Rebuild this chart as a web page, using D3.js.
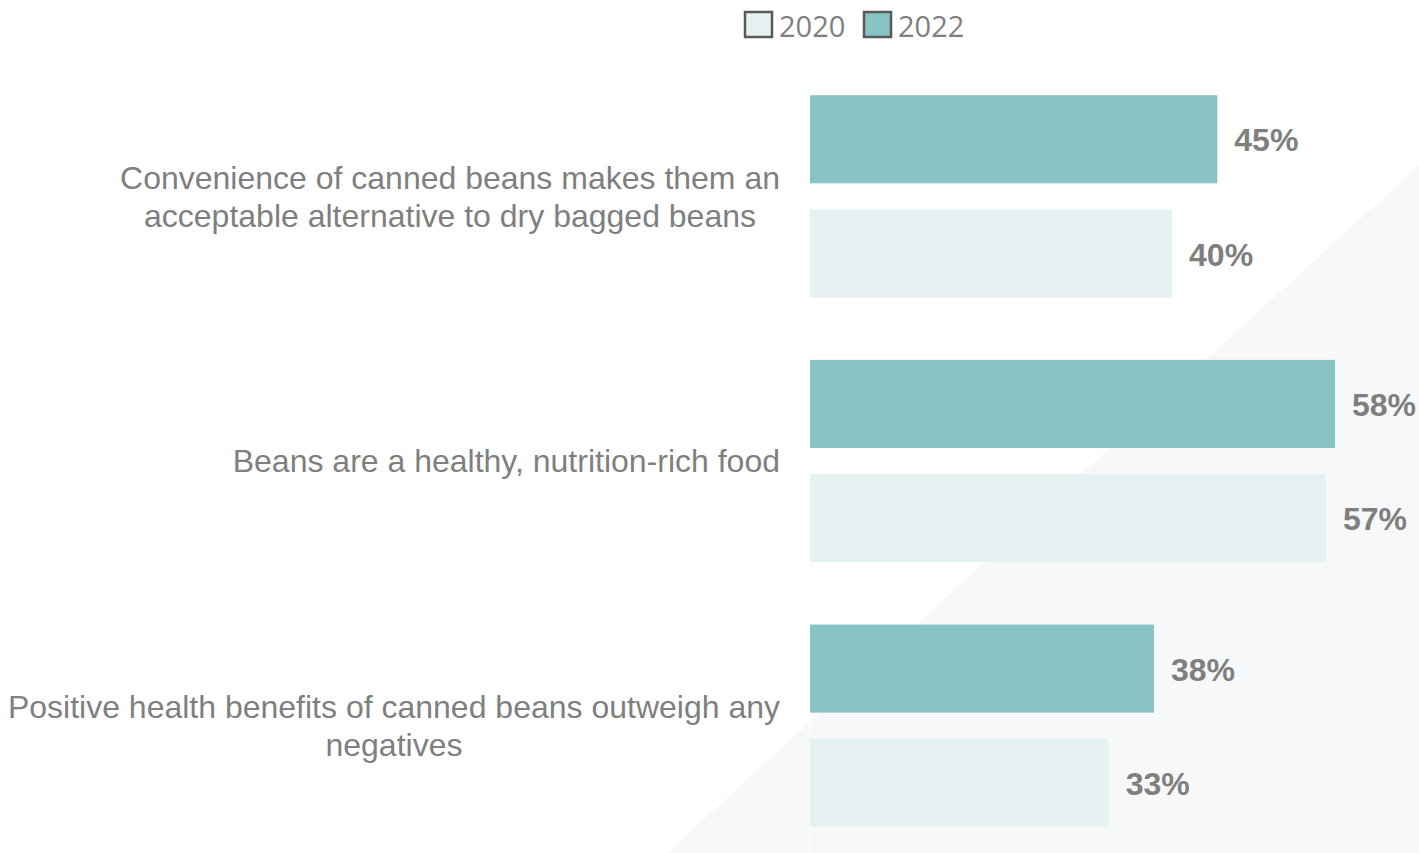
<!DOCTYPE html>
<html>
<head>
<meta charset="utf-8">
<script src="https://cdn.jsdelivr.net/npm/d3@7"></script>
<style>
  html, body { margin: 0; padding: 0; background: #ffffff; }
  svg { display: block; }
</style>
</head>
<body>
<svg id="chart" width="1419" height="853"></svg>
<script>
// Survey statements (each may wrap onto several lines)
const categories = [
  "Convenience of canned beans makes them an|acceptable alternative to dry bagged beans",
  "Beans are a healthy, nutrition-rich food",
  "Positive health benefits of canned beans outweigh any|negatives"
];
const seriesNames = ["2022", "2020"];
const values2022 = [45, 58, 38];
const values2020 = [40, 57, 33];
const legendOrder = ["2020", "2022"];

const colors = { "2020": "#e6f2f2", "2022": "#89c4c4" };
const textGray = "#7f7f7f";

const W = 1419, H = 853;
const svg = d3.select("#chart");

// Light diagonal panel in the lower right corner
svg.append("polygon")
  .attr("points", [[667, H], [W, 165], [W, H]].map(p => p.join(",")).join(" "))
  .attr("fill", "#f7f8fa");

const x = d3.scaleLinear().domain([0, 58]).range([810, 1335]);

const y = d3.scaleBand()
  .domain(categories)
  .range([64, 858])
  .paddingInner(0.236)
  .paddingOuter(0.118);

const ySeries = d3.scaleBand()
  .domain(seriesNames)
  .range([0, y.bandwidth()])
  .paddingInner(0.228);

const rows = categories.map((c, i) => ({
  cat: c,
  vals: [
    { key: "2022", v: values2022[i] },
    { key: "2020", v: values2020[i] }
  ]
}));

// Value axis baseline
svg.append("line")
  .attr("x1", x(0)).attr("x2", x(0))
  .attr("y1", 80).attr("y2", H)
  .attr("stroke", "#ffffff").attr("stroke-width", 1);

const groups = svg.selectAll("g.row")
  .data(rows)
  .join("g")
  .attr("class", "row")
  .attr("transform", d => `translate(0,${y(d.cat)})`);

groups.selectAll("rect")
  .data(d => d.vals)
  .join("rect")
  .attr("x", x(0))
  .attr("y", d => ySeries(d.key))
  .attr("width", d => x(d.v) - x(0))
  .attr("height", ySeries.bandwidth())
  .attr("fill", d => colors[d.key]);

groups.selectAll("text.val")
  .data(d => d.vals)
  .join("text")
  .attr("class", "val")
  .attr("x", d => x(d.v) + 17)
  .attr("y", d => ySeries(d.key) + ySeries.bandwidth() / 2 + 1)
  .attr("dy", "0.35em")
  .attr("font-family", "Arial, 'Liberation Sans', sans-serif")
  .attr("font-weight", "bold")
  .attr("font-size", 32)
  .attr("fill", textGray)
  .text(d => d.v + "%");

// Category labels: lines centred on each other, block right-aligned to the bars
const labelRight = 780;
const lineH = 38;
groups.each(function (d) {
  const g = d3.select(this);
  const lines = d.cat.split("|");
  const t = g.append("text")
    .attr("font-family", "Arial, 'Liberation Sans', sans-serif")
    .attr("font-size", 32)
    .attr("fill", textGray)
    .attr("text-anchor", "middle");
  const cy = y.bandwidth() / 2;
  const tspans = lines.map((ln, i) =>
    t.append("tspan")
      .attr("y", cy + (i - (lines.length - 1) / 2) * lineH)
      .attr("dy", "0.35em")
      .text(ln)
  );
  const maxW = d3.max(tspans, s => s.node().getComputedTextLength());
  tspans.forEach(s => s.attr("x", labelRight - maxW / 2));
});

// Legend
const legend = svg.append("g").attr("class", "legend");
const legendX = [744, 863];
legendOrder.forEach((k, i) => {
  const lg = legend.append("g").attr("transform", `translate(${legendX[i]},11)`);
  lg.append("rect")
    .attr("x", 1).attr("y", 1)
    .attr("width", 27).attr("height", 25)
    .attr("fill", colors[k])
    .attr("stroke", "#595959")
    .attr("stroke-width", 2.5);
  lg.append("text")
    .attr("x", 35)
    .attr("y", 16)
    .attr("dy", "0.35em")
    .attr("font-family", "'Open Sans', sans-serif")
    .attr("font-size", 29)
    .attr("fill", textGray)
    .text(k);
});
</script>
</body>
</html>
